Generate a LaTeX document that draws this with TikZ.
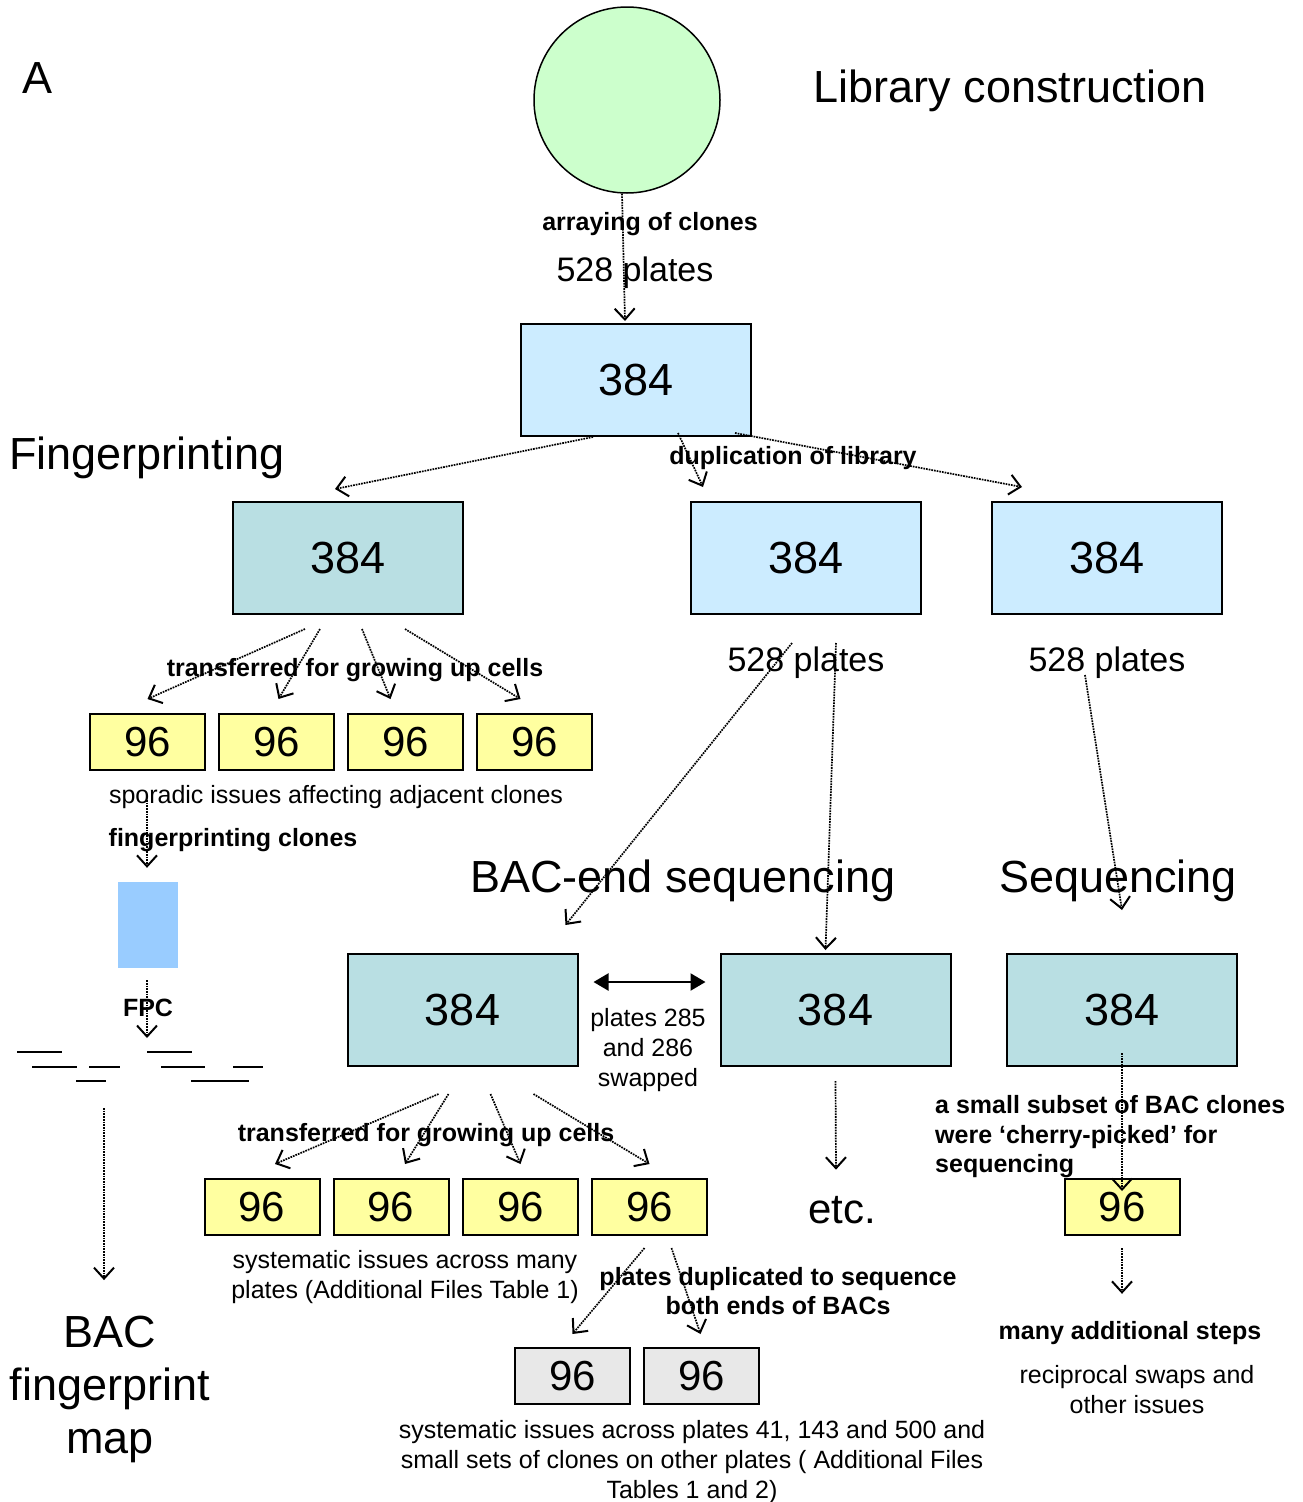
\documentclass[tikz,border=0pt]{standalone}
\usepackage{fontspec}
\setmainfont{Liberation Sans}
\usetikzlibrary{arrows.meta}
\definecolor{libgreen}{RGB}{204,255,204}
\definecolor{libblue}{RGB}{204,236,255}
\definecolor{copyteal}{RGB}{185,223,227}
\definecolor{wellyellow}{RGB}{255,255,160}
\definecolor{wellgray}{RGB}{232,232,232}
\definecolor{gelblue}{RGB}{153,204,255}

\begin{document}
\begin{tikzpicture}[x=1pt,y=-1pt,
            flow/.style={densely dotted,line width=1.7pt,-{Straight Barb[length=11pt,width=20pt,line width=2pt]}},
            swaparrow/.style={line width=2.2pt,{Triangle[length=15pt,width=17pt]}-{Triangle[length=15pt,width=17pt]}}]
            \tikzstyle{plate384}=[draw,line width=2pt,minimum width=230pt,minimum height=112pt,inner sep=0pt,font=\fontsize{45}{54}\selectfont]
            \tikzstyle{well96}=[draw,line width=2pt,minimum width=115pt,minimum height=56pt,inner sep=0pt,fill=wellyellow,font=\fontsize{42}{50}\selectfont]
            \tikzstyle{title}=[font=\fontsize{45}{53}\selectfont,align=center,yshift=-3pt]
            \tikzstyle{count}=[font=\fontsize{34}{40}\selectfont,yshift=-3pt]
            \tikzstyle{lbl}=[font=\bfseries\fontsize{25}{29.5}\selectfont,align=center,yshift=-2pt]
            \tikzstyle{txt}=[font=\fontsize{25}{30}\selectfont,align=center,yshift=-2pt]
            \tikzstyle{contig}=[line width=2.7pt]
            \useasboundingbox (0,0) rectangle (1302,1502);
            \node[circle,draw,line width=1.5pt,fill=libgreen,minimum size=186pt] (clones) at (627,100) {};
            \node[title] (panel) at (38,75) {A};
            \node[title] (libcons) at (1010,88) {Library construction};
            \node[lbl] (arraying) at (650,222) {arraying of clones};
            \node[count] (n528a) at (635,270) {528 plates};
            \node[plate384,fill=libblue] (lib) at (636,380) {384};
            \node[title] (fptitle) at (147,455) {Fingerprinting};
            \node[lbl] (duplab) at (793,456) {duplication of library};
            \node[plate384,fill=copyteal] (fp) at (348,558) {384};
            \node[plate384,fill=libblue] (dup) at (806,558) {384};
            \node[plate384,fill=libblue] (seqlib) at (1107,558) {384};
            \node[count] (n528b) at (806,660) {528 plates};
            \node[count] (n528c) at (1107,660) {528 plates};
            \node[lbl] (grow1) at (355,668) {transferred for growing up cells};
            \foreach \i/\x in {1/147.5,2/276.5,3/405.5,4/534.5}
                \node[well96] (fpw\i) at (\x,742) {96};
            \node[txt] (sporadic) at (336,795) {sporadic issues affecting adjacent clones};
            \node[lbl] (fpclones) at (233,838) {fingerprinting clones};
            \node[fill=gelblue,minimum width=60pt,minimum height=86pt,inner sep=0pt] (gel) at (148,925) {};
            \node[lbl] (fpc) at (148,1006) {FPC};
            \coordinate (contigs) at (147,1038);
            \coordinate (mapfrom) at (104,1108);
            \foreach \a/\b/\y in {17/62/1052,147/192/1052,32/77/1067,89/120/1067,161/205/1067,233/263/1067,76/106/1081,191/249/1081}
                \draw[contig] (\a,\y) -- (\b,\y);
            \node[title] (map) at (110,1386) {BAC\\fingerprint\\map};
            \node[title] (bacend) at (683,878) {BAC-end sequencing};
            \node[title] (seqtitle) at (1118,878) {Sequencing};
            \node[plate384,fill=copyteal] (bes1) at (462.5,1010) {384};
            \node[plate384,fill=copyteal] (bes2) at (835.5,1010) {384};
            \node[plate384,fill=copyteal] (seq) at (1122,1010) {384};
            \node[txt] (swap) at (648,1048) {plates 285\\and 286\\swapped};
            \node[lbl] (grow2) at (426,1133) {transferred for growing up cells};
            \foreach \i/\x in {1/262,2/391,3/520.5,4/649.5}
                \node[well96] (bw\i) at (\x,1207) {96};
            \node[txt] (systematic) at (405,1275) {systematic issues across many\\plates (Additional Files Table 1)};
            \node[lbl] (dupends) at (778,1289) {plates duplicated to sequence\\both ends of BACs};
            \node[well96,fill=wellgray] (gw1) at (572.5,1376) {96};
            \node[well96,fill=wellgray] (gw2) at (701.5,1376) {96};
            \node[txt] (systematic2) at (692,1460) {systematic issues across plates 41, 143 and 500 and\\small sets of clones on other plates ( Additional Files\\Tables 1 and 2)};
            \node[font=\fontsize{42}{50}\selectfont,yshift=-2pt] (etc) at (842,1208) {etc.};
            \node[lbl,align=left,anchor=west,inner xsep=0pt] (cherry) at (935,1135) {a small subset of BAC clones\\were ‘cherry-picked’ for\\sequencing};
            \node[well96] (seqw) at (1122,1207) {96};
            \node[lbl] (steps) at (1130,1331) {many additional steps};
            \node[txt] (recip) at (1137,1388) {reciprocal swaps and\\other issues};
            \draw[flow] ([xshift=-5pt]clones.south) -- ([xshift=-11pt,yshift=2pt]lib.north);
            \draw[flow] ([xshift=-43pt]lib.south) -- ([xshift=-13pt,yshift=12pt]fp.north);
            \draw[flow] ([xshift=42pt,yshift=4pt]lib.south) -- ([xshift=-103pt,yshift=14pt]dup.north);
            \draw[flow] ([xshift=99pt,yshift=4pt]lib.south) -- ([xshift=-85pt,yshift=14pt]seqlib.north);
            \foreach \i/\s/\e in {1/-43/0,2/-28/2,3/14/-15,4/57/-14}
                \draw[flow] ([xshift=\s pt,yshift=-14pt]fp.south) -- ([xshift=\e pt,yshift=14pt]fpw\i.north);
            \draw[flow] ([xshift=-189pt,yshift=-3pt]sporadic.center) -- ([xshift=-1pt,yshift=14pt]gel.north);
            \draw[flow] ([xshift=-1pt,yshift=-12pt]gel.south) -- (contigs);
            \draw[flow] (mapfrom) -- ([xshift=-6pt,yshift=32pt]map.north);
            \draw[flow] ([xshift=-14pt,yshift=20pt]n528b.center) -- ([xshift=103pt,yshift=28pt]bes1.north);
            \draw[flow] ([xshift=30pt,yshift=20pt]n528b.center) -- ([xshift=-10pt,yshift=3pt]bes2.north);
            \draw[flow] ([xshift=-22pt,yshift=-12pt]n528c.center) -- ([yshift=43pt]seq.north);
            \draw[swaparrow] ([xshift=15pt,yshift=28pt]bes1.east) -- ([xshift=-14pt,yshift=28pt]bes2.west);
            \foreach \i/\s/\e in {1/-24/13,2/-14/14,3/28/0,4/71/0}
                \draw[flow] ([xshift=\s pt,yshift=-27pt]bes1.south) -- ([xshift=\e pt,yshift=14pt]bw\i.north);
            \draw[flow] ([xshift=-5pt,yshift=-12pt]bw4.south) -- ([yshift=13pt]gw1.north);
            \draw[flow] ([xshift=22pt,yshift=-12pt]bw4.south) -- ([xshift=-1pt,yshift=13pt]gw2.north);
            \draw[flow] ([yshift=-14pt]bes2.south) -- ([xshift=-6pt,yshift=23pt]etc.north);
            \draw[flow] ([yshift=14pt]seq.south) -- ([yshift=-13pt]seqw.north);
            \draw[flow] ([yshift=-12pt]seqw.south) -- ([xshift=-8pt,yshift=24pt]steps.north);
        \end{tikzpicture}
\end{document}
